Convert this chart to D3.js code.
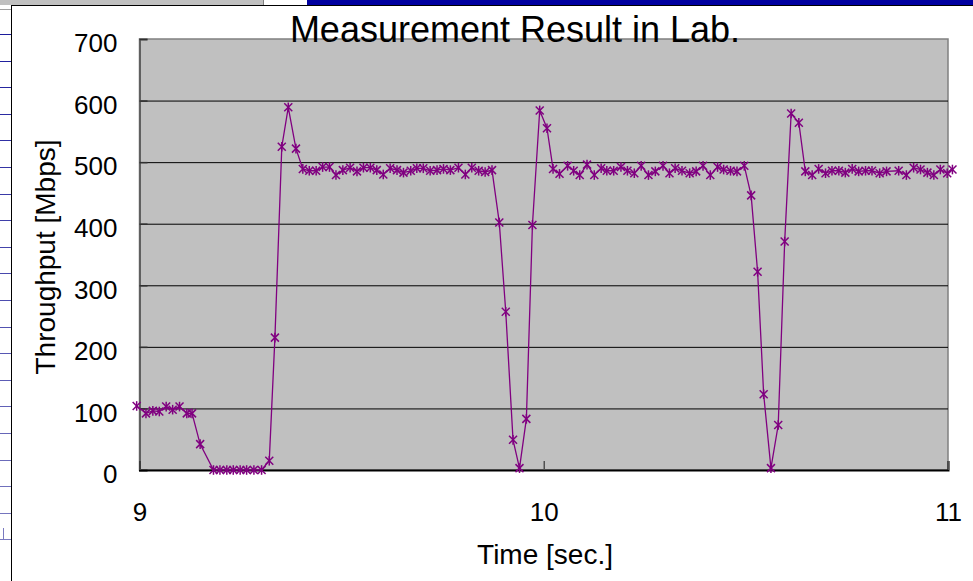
<!DOCTYPE html>
<html>
<head>
<meta charset="utf-8">
<script src="https://cdn.jsdelivr.net/npm/d3@7"></script>
<style>
  html, body { margin: 0; padding: 0; background: #ffffff; }
  svg { display: block; }
  text { font-family: "Liberation Sans", Arial, sans-serif; fill: #000; }
</style>
</head>
<body>
<svg id="chart" width="973" height="581"></svg>
<script>
// ---- data ----
const chartTitle = "Measurement Result in Lab.";
const xTitle = "Time [sec.]";
const yTitle = "Throughput [Mbps]";
const xTicks = [9, 10, 11];
const yTicks = [0, 100, 200, 300, 400, 500, 600, 700];

const timeSec = [
  8.993, 9.016, 9.033, 9.049, 9.066, 9.082, 9.099, 9.117, 9.130, 9.150,
  9.183, 9.199, 9.216, 9.232, 9.249, 9.265, 9.283, 9.302,
  9.321, 9.335, 9.352, 9.368, 9.387, 9.404, 9.420, 9.437, 9.453, 9.470,
  9.486, 9.503, 9.521, 9.538, 9.554, 9.571, 9.587, 9.603, 9.620, 9.637,
  9.653, 9.671, 9.686, 9.702, 9.719, 9.736, 9.752, 9.769, 9.789, 9.806,
  9.822, 9.839, 9.855, 9.872, 9.890, 9.906, 9.924, 9.940, 9.957, 9.972,
  9.990, 10.008, 10.023, 10.039, 10.059, 10.074, 10.089, 10.107, 10.125, 10.142,
  10.156, 10.173, 10.191, 10.207, 10.224, 10.241, 10.259, 10.276, 10.295, 10.311,
  10.325, 10.342, 10.361, 10.377, 10.394, 10.412, 10.430, 10.445, 10.462, 10.478,
  10.496, 10.513, 10.529, 10.544, 10.562, 10.580, 10.596, 10.612, 10.631, 10.647,
  10.664, 10.680, 10.697, 10.713, 10.730, 10.746, 10.763, 10.779, 10.796, 10.812,
  10.831, 10.848, 10.878, 10.897, 10.915, 10.932, 10.949, 10.965, 10.981, 10.998,
  11.011
];
const throughputMbps = [
  104, 92, 96, 95, 103, 98, 103, 92, 92, 42,
  0, 0, 0, 0, 0, 0, 0, 0,
  15, 215, 525, 589, 522, 489, 486, 486, 492, 492,
  479, 487, 491, 485, 491, 491, 487, 480, 490, 487,
  483, 486, 490, 490, 486, 487, 489, 487, 491, 480,
  491, 486, 484, 487, 402, 257, 49, 3, 83, 398,
  584, 555, 489, 481, 494, 486, 479, 496, 479, 490,
  486, 486, 492, 486, 482, 494, 479, 485, 494, 482,
  490, 486, 482, 485, 494, 479, 492, 488, 486, 485,
  494, 446, 322, 123, 3, 73, 371, 579, 564, 485,
  479, 489, 482, 486, 486, 483, 489, 485, 486, 486,
  482, 485, 486, 479, 491, 488, 483, 479, 488, 482,
  488
];

// ---- drawing ----
const svg = d3.select("#chart");
const W = 973, H = 581;
const plot = { left: 139.5, right: 948, top: 39, bottom: 470 };

// surrounding window decoration
svg.append("rect").attr("x", 0).attr("y", 0).attr("width", W).attr("height", H).attr("fill", "#fff");
svg.append("rect").attr("x", 0).attr("y", 0).attr("width", 263).attr("height", 5).attr("fill", "#c0c0c0");
svg.append("line").attr("x1", 263.5).attr("x2", 263.5).attr("y1", 0).attr("y2", 5).attr("stroke", "#808080");
svg.append("rect").attr("x", 307).attr("y", 0).attr("width", W - 307).attr("height", 5).attr("fill", "#0000a0");
svg.append("line").attr("x1", 0).attr("x2", 11).attr("y1", 9.5).attr("y2", 9.5).attr("stroke", "#a0a0a0");
const sideLines = d3.range(1, 21).map(k => 7.4 + 26.6 * k);
svg.selectAll("line.side").data(sideLines).join("line")
  .attr("class", "side")
  .attr("x1", 0).attr("x2", 11)
  .attr("y1", d => Math.round(d) + 0.5).attr("y2", d => Math.round(d) + 0.5)
  .attr("stroke", (d, i) => d3.interpolateRgb("#1c1c9c", "#7a7ac0")(i / 19));
svg.append("line").attr("x1", 3.5).attr("x2", 3.5).attr("y1", 528).attr("y2", 539).attr("stroke", "#7a7ac0");
// chart box border
svg.append("line").attr("x1", 11).attr("x2", W).attr("y1", 5.5).attr("y2", 5.5).attr("stroke", "#000");
svg.append("line").attr("x1", 11.5).attr("x2", 11.5).attr("y1", 5).attr("y2", H).attr("stroke", "#000");

const x = d3.scaleLinear().domain([9, 11]).range([plot.left, plot.right]);
const y = d3.scaleLinear().domain([0, 700]).range([plot.bottom, plot.top]);

// plot background
svg.append("rect")
  .attr("x", plot.left).attr("y", plot.top)
  .attr("width", plot.right - plot.left).attr("height", plot.bottom - plot.top)
  .attr("fill", "#c0c0c0").attr("stroke", "#808080").attr("stroke-width", 1.5);

// horizontal gridlines
const grid = svg.append("g").attr("transform", `translate(${plot.left},0)`)
  .call(d3.axisLeft(y).tickValues(yTicks.filter(v => v > 0 && v < 700))
    .tickSize(-(plot.right - plot.left)).tickFormat(""));
grid.select(".domain").remove();
grid.selectAll(".tick line").attr("stroke", "#000").attr("stroke-width", 1);

// y axis
const yAxis = svg.append("g").attr("transform", `translate(${plot.left},0)`)
  .call(d3.axisLeft(y).tickValues(yTicks).tickSize(-8).tickPadding(22).tickFormat(d3.format("d")));
yAxis.select(".domain").attr("stroke", "#606060").attr("stroke-width", 2);
yAxis.selectAll(".tick line").attr("stroke", "#303030").attr("stroke-width", 1.5);
yAxis.selectAll(".tick text")
  .style("font-family", '"Liberation Sans", Arial, sans-serif')
  .attr("font-size", 26).attr("fill", "#000").attr("dy", "0.49em");

// x axis
const xAxis = svg.append("g").attr("transform", `translate(0,${plot.bottom})`)
  .call(d3.axisBottom(x).tickValues(xTicks).tickSize(-9).tickPadding(33).tickFormat(d3.format("d")));
xAxis.select(".domain").attr("stroke", "#000").attr("stroke-width", 2);
xAxis.selectAll(".tick line").attr("stroke", "#505050").attr("stroke-width", 1.5);
xAxis.selectAll(".tick text")
  .style("font-family", '"Liberation Sans", Arial, sans-serif')
  .attr("font-size", 26).attr("fill", "#000").attr("dy", "0.71em");

// data series
const pts = timeSec.map((t, i) => ({ t, v: throughputMbps[i] }));
const color = "#800080";
svg.append("path").datum(pts)
  .attr("fill", "none").attr("stroke", color).attr("stroke-width", 1.3)
  .attr("d", d3.line().x(d => x(d.t)).y(d => y(d.v)));

const r = 4;
const marks = svg.append("g").selectAll("g").data(pts).join("g")
  .attr("transform", d => `translate(${x(d.t)},${y(d.v)})`)
  .attr("stroke", color).attr("stroke-width", 1.5);
marks.append("line").attr("x1", -r).attr("y1", -r).attr("x2", r).attr("y2", r);
marks.append("line").attr("x1", -r).attr("y1", r).attr("x2", r).attr("y2", -r);
marks.append("line").attr("x1", 0).attr("y1", -r - 0.8).attr("x2", 0).attr("y2", r + 0.8);

// titles
svg.append("text").attr("x", 515).attr("y", 41.5).attr("text-anchor", "middle")
  .attr("font-size", 36).text(chartTitle);
svg.append("text").attr("x", 545).attr("y", 564).attr("text-anchor", "middle")
  .attr("font-size", 28).text(xTitle);
svg.append("text").attr("transform", "translate(55,257) rotate(-90)").attr("text-anchor", "middle")
  .attr("font-size", 28).text(yTitle);
</script>
</body>
</html>
